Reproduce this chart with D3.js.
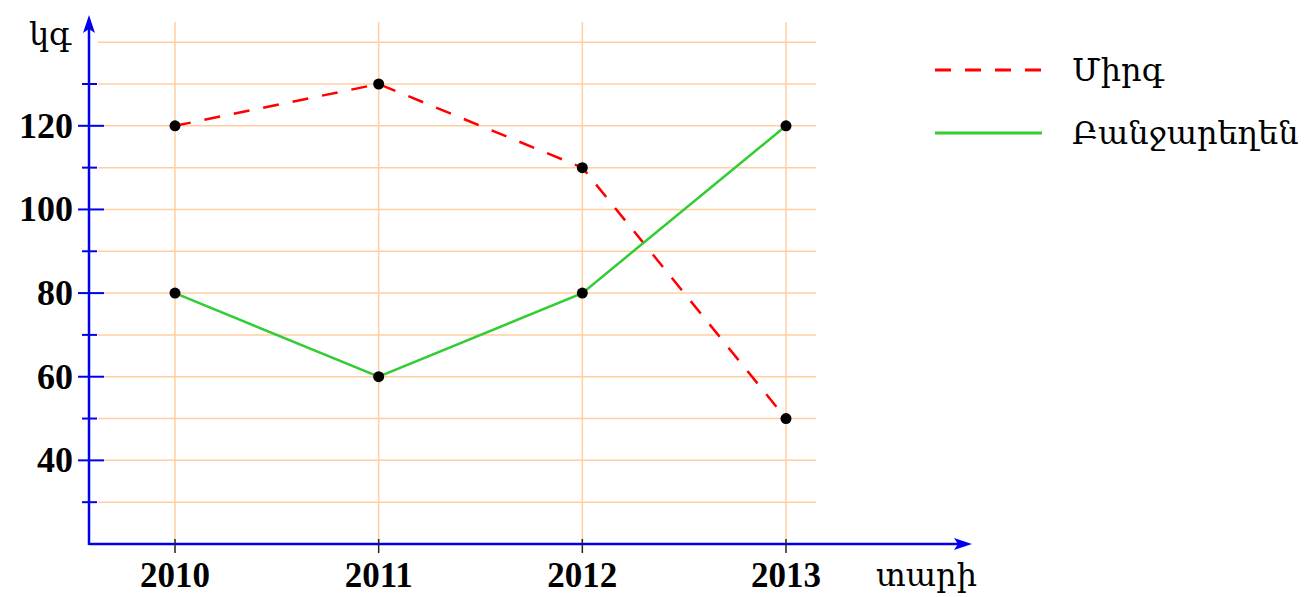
<!DOCTYPE html>
<html>
<head>
<meta charset="utf-8">
<script src="https://cdn.jsdelivr.net/npm/d3@7"></script>
<style>
  body { margin: 0; background: #fff; }
  text { font-family: "Liberation Serif", "DejaVu Serif", serif; }
  text.arm { font-family: "DejaVu Serif", serif; }
</style>
</head>
<body>
<svg id="chart" width="1307" height="597"></svg>
<script>
// chart data
var years = [2010, 2011, 2012, 2013];
var fruit = [120, 130, 110, 50];      // Միրգ
var vegetables = [80, 60, 80, 120];   // Բանջարեղեն
var yTickLabels = [40, 60, 80, 100, 120];
var minorTicks = [30, 50, 70, 90, 110, 130];
var gridValues = [30, 40, 50, 60, 70, 80, 90, 100, 110, 120, 130, 140];
var seriesNames = ["Միրգ", "Բանջարեղեն"];
var yLabel = "կգ";
var xLabel = "տարի";

var svg = d3.select("#chart");

// scales
var xScale = d3.scalePoint().domain(years).range([175, 786]);
var yScale = d3.scaleLinear().domain([20, 130]).range([544, 84]);

var axisColor = "#0000ee";
var gridColor = "#ffcf9f";

// grid
var grid = svg.append("g").attr("class", "grid");
grid.selectAll(".hgrid")
  .data(gridValues)
  .enter().append("line")
  .attr("x1", function(d) { return yTickLabels.indexOf(d) >= 0 ? 104 : 98; })
  .attr("x2", 816)
  .attr("y1", function(d) { return yScale(d); })
  .attr("y2", function(d) { return yScale(d); })
  .attr("stroke", gridColor)
  .attr("stroke-width", 1.5);

grid.selectAll(".vgrid")
  .data(years)
  .enter().append("line")
  .attr("x1", function(d) { return xScale(d); })
  .attr("x2", function(d) { return xScale(d); })
  .attr("y1", 22)
  .attr("y2", 542)
  .attr("stroke", gridColor)
  .attr("stroke-width", 1.5);

// axes
var axes = svg.append("g").attr("class", "axes");
axes.append("line")
  .attr("x1", 89).attr("x2", 962)
  .attr("y1", 544).attr("y2", 544)
  .attr("stroke", axisColor).attr("stroke-width", 2.5);
axes.append("path")
  .attr("d", "M972,544 L954,538 L958,544 L954,550 Z")
  .attr("fill", axisColor);
axes.append("line")
  .attr("x1", 89).attr("x2", 89)
  .attr("y1", 545).attr("y2", 26)
  .attr("stroke", axisColor).attr("stroke-width", 2.5);
axes.append("path")
  .attr("d", "M89,15 L83,33 L89,29 L95,33 Z")
  .attr("fill", axisColor);

axes.selectAll(".major")
  .data(yTickLabels)
  .enter().append("line")
  .attr("x1", 78).attr("x2", 104)
  .attr("y1", function(d) { return yScale(d); })
  .attr("y2", function(d) { return yScale(d); })
  .attr("stroke", axisColor).attr("stroke-width", 2);

axes.selectAll(".minor")
  .data(minorTicks)
  .enter().append("line")
  .attr("x1", 82).attr("x2", 97)
  .attr("y1", function(d) { return yScale(d); })
  .attr("y2", function(d) { return yScale(d); })
  .attr("stroke", axisColor).attr("stroke-width", 2);

axes.selectAll(".xtick")
  .data(years)
  .enter().append("line")
  .attr("x1", function(d) { return xScale(d); })
  .attr("x2", function(d) { return xScale(d); })
  .attr("y1", 539).attr("y2", 553)
  .attr("stroke", "#222").attr("stroke-width", 1.5);

// tick labels
svg.selectAll(".ylab")
  .data(yTickLabels)
  .enter().append("text")
  .attr("x", 73)
  .attr("y", function(d) { return yScale(d) + 12; })
  .attr("text-anchor", "end")
  .attr("font-size", 36)
  .attr("font-weight", "bold")
  .text(function(d) { return d; });

svg.selectAll(".xlab")
  .data(years)
  .enter().append("text")
  .attr("x", function(d) { return xScale(d); })
  .attr("y", 587)
  .attr("text-anchor", "middle")
  .attr("font-size", 35)
  .attr("font-weight", "bold")
  .text(function(d) { return d; });

svg.append("text")
  .attr("class", "arm")
  .attr("x", 29).attr("y", 45)
  .attr("font-size", 32)
  .text(yLabel);

svg.append("text")
  .attr("class", "arm")
  .attr("x", 876).attr("y", 586)
  .attr("font-size", 32)
  .text(xLabel);

// series
var line = d3.line()
  .x(function(d, i) { return xScale(years[i]); })
  .y(function(d) { return yScale(d); });

var series = [
  { name: seriesNames[0], values: fruit, color: "#ff0000", dash: "16,14", width: 2.5 },
  { name: seriesNames[1], values: vegetables, color: "#33cc33", dash: null, width: 2.5 }
];

series.forEach(function(s) {
  svg.append("path")
    .attr("d", line(s.values))
    .attr("fill", "none")
    .attr("stroke", s.color)
    .attr("stroke-width", s.width)
    .attr("stroke-dasharray", s.dash);
});

series.forEach(function(s) {
  svg.selectAll(null)
    .data(s.values)
    .enter().append("circle")
    .attr("cx", function(d, i) { return xScale(years[i]); })
    .attr("cy", function(d) { return yScale(d); })
    .attr("r", 5.5)
    .attr("fill", "#000");
});

// legend
var legend = svg.append("g").attr("class", "legend");
series.forEach(function(s, i) {
  var y = 70 + i * 63;
  legend.append("line")
    .attr("x1", 935).attr("x2", 1042)
    .attr("y1", y).attr("y2", y)
    .attr("stroke", s.color)
    .attr("stroke-width", 3)
    .attr("stroke-dasharray", s.dash);
  legend.append("text")
    .attr("class", "arm")
    .attr("x", 1072).attr("y", y + 11)
    .attr("font-size", 32)
    .text(s.name);
});
</script>
</body>
</html>
